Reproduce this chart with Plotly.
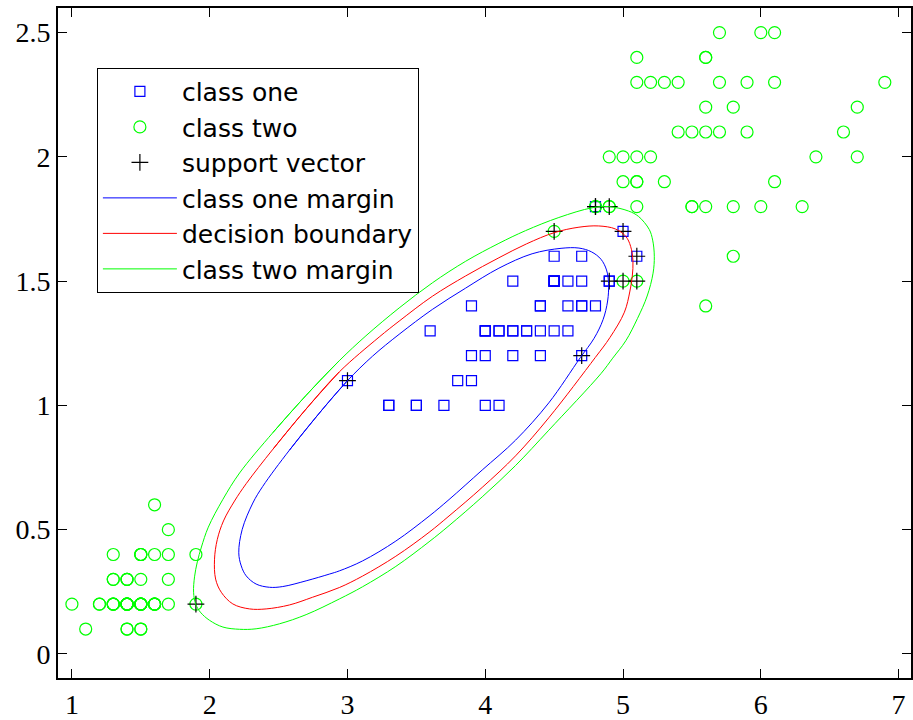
import plotly.graph_objects as go

# ---- data (iris petal length / width) ----
class_one_x = [4.7, 4.5, 4.9, 4.0, 4.6, 4.5, 4.7, 3.3, 4.6, 3.9, 3.5, 4.2, 4.0, 4.7, 3.6, 4.4, 4.5, 4.1, 4.5, 3.9,
               4.8, 4.0, 4.9, 4.7, 4.3, 4.4, 4.8, 5.0, 4.5, 3.5, 3.8, 3.7, 3.9, 5.1, 4.5, 4.5, 4.7, 4.4, 4.1, 4.0,
               4.4, 4.6, 4.0, 3.3, 4.2, 4.2, 4.2, 4.3, 3.0, 4.1]
class_one_y = [1.4, 1.5, 1.5, 1.3, 1.5, 1.3, 1.6, 1.0, 1.3, 1.4, 1.0, 1.5, 1.0, 1.4, 1.3, 1.4, 1.5, 1.0, 1.5, 1.1,
               1.8, 1.3, 1.5, 1.2, 1.3, 1.4, 1.4, 1.7, 1.5, 1.0, 1.1, 1.0, 1.2, 1.6, 1.5, 1.6, 1.5, 1.3, 1.3, 1.3,
               1.2, 1.4, 1.2, 1.0, 1.3, 1.2, 1.3, 1.3, 1.1, 1.3]

class_two_x = [1.4, 1.4, 1.3, 1.5, 1.4, 1.7, 1.4, 1.5, 1.4, 1.5, 1.5, 1.6, 1.4, 1.1, 1.2, 1.5, 1.3, 1.4, 1.7, 1.5,
               1.7, 1.5, 1.0, 1.7, 1.9, 1.6, 1.6, 1.5, 1.4, 1.6, 1.6, 1.5, 1.5, 1.4, 1.5, 1.2, 1.3, 1.4, 1.3, 1.5,
               1.3, 1.3, 1.3, 1.6, 1.9, 1.4, 1.6, 1.4, 1.5, 1.4,
               6.0, 5.1, 5.9, 5.6, 5.8, 6.6, 4.5, 6.3, 5.8, 6.1, 5.1, 5.3, 5.5, 5.0, 5.1, 5.3, 5.5, 6.7, 6.9, 5.0,
               5.7, 4.9, 6.7, 4.9, 5.7, 6.0, 4.8, 4.9, 5.6, 5.8, 6.1, 6.4, 5.6, 5.1, 5.6, 6.1, 5.6, 5.5, 4.8, 5.4,
               5.6, 5.1, 5.1, 5.9, 5.7, 5.2, 5.0, 5.2, 5.4, 5.1]
class_two_y = [0.2, 0.2, 0.2, 0.2, 0.2, 0.4, 0.3, 0.2, 0.2, 0.1, 0.2, 0.2, 0.1, 0.1, 0.2, 0.4, 0.4, 0.3, 0.3, 0.3,
               0.2, 0.4, 0.2, 0.5, 0.2, 0.2, 0.4, 0.2, 0.2, 0.2, 0.2, 0.4, 0.1, 0.2, 0.2, 0.2, 0.2, 0.1, 0.2, 0.2,
               0.3, 0.3, 0.2, 0.6, 0.4, 0.3, 0.2, 0.2, 0.2, 0.2,
               2.5, 1.9, 2.1, 1.8, 2.2, 2.1, 1.7, 1.8, 1.8, 2.5, 2.0, 1.9, 2.1, 2.0, 2.4, 2.3, 1.8, 2.2, 2.3, 1.5,
               2.3, 2.0, 2.0, 1.8, 2.1, 1.8, 1.8, 1.8, 2.1, 1.6, 1.9, 2.0, 2.2, 1.5, 1.4, 2.3, 2.4, 1.8, 1.8, 2.1,
               2.4, 2.3, 1.9, 2.3, 2.5, 2.3, 1.9, 2.0, 2.3, 1.8]

sv_x = [1.9, 3.0, 4.7, 4.9, 5.0, 5.1, 4.8, 4.5, 4.8, 4.9, 5.0, 5.1]
sv_y = [0.2, 1.1, 1.2, 1.5, 1.7, 1.6, 1.8, 1.7, 1.8, 1.8, 1.5, 1.5]

# contour lines (closed loops, first points repeated at the end)
one_margin_x = [2.579, 2.820, 3.001, 3.182, 3.375, 3.616, 3.858, 4.099, 4.340, 4.550, 4.680, 4.770, 4.840, 4.880,
                4.895, 4.888, 4.855, 4.790, 4.691, 4.461, 4.220, 3.978, 3.737, 3.592, 3.351, 3.109, 2.941, 2.868,
                2.700, 2.530, 2.434, 2.337, 2.265, 2.229, 2.211, 2.236, 2.313, 2.385, 2.579, 2.820, 3.001]
one_margin_y = [0.820, 0.985, 1.100, 1.198, 1.286, 1.386, 1.472, 1.552, 1.610, 1.632, 1.633, 1.618, 1.588, 1.545,
                1.490, 1.420, 1.345, 1.270, 1.193, 1.010, 0.860, 0.740, 0.621, 0.554, 0.454, 0.374, 0.334, 0.321,
                0.294, 0.271, 0.268, 0.281, 0.314, 0.354, 0.407, 0.501, 0.607, 0.674, 0.820, 0.985, 1.100]

boundary_x = [2.458, 2.699, 2.941, 3.230, 3.375, 3.616, 3.858, 4.099, 4.300, 4.500, 4.680, 4.823, 4.944, 5.020,
              5.055, 5.072, 5.067, 5.050, 5.010, 4.905, 4.799, 4.461, 4.220, 3.978, 3.737, 3.592, 3.351, 3.109,
              2.941, 2.747, 2.579, 2.410, 2.289, 2.168, 2.084, 2.043, 2.035, 2.055, 2.100, 2.180, 2.265, 2.458,
              2.699, 2.941]
boundary_y = [0.823, 0.985, 1.135, 1.275, 1.339, 1.439, 1.521, 1.594, 1.650, 1.695, 1.717, 1.722, 1.710, 1.680,
              1.640, 1.580, 1.520, 1.460, 1.375, 1.273, 1.193, 0.950, 0.797, 0.670, 0.555, 0.489, 0.393, 0.313,
              0.267, 0.228, 0.197, 0.181, 0.181, 0.201, 0.248, 0.301, 0.381, 0.460, 0.535, 0.615, 0.685, 0.823,
              0.985, 1.135]

two_margin_x = [2.458, 2.699, 2.941, 3.134, 3.375, 3.616, 3.858, 4.099, 4.292, 4.534, 4.775, 4.896, 5.040, 5.113,
                5.190, 5.215, 5.227, 5.218, 5.175, 5.105, 5.020, 4.925, 4.840, 4.461, 4.220, 3.978, 3.737, 3.592,
                3.351, 3.109, 2.941, 2.700, 2.506, 2.337, 2.217, 2.096, 1.999, 1.932, 1.898, 1.883, 1.890, 1.910,
                1.940, 1.990, 2.096, 2.217, 2.458, 2.699, 2.941]
two_margin_y = [0.890, 1.040, 1.180, 1.280, 1.392, 1.493, 1.580, 1.652, 1.703, 1.756, 1.795, 1.800, 1.782, 1.760,
                1.708, 1.665, 1.600, 1.532, 1.440, 1.350, 1.260, 1.190, 1.128, 0.900, 0.758, 0.632, 0.516, 0.451,
                0.352, 0.270, 0.221, 0.158, 0.121, 0.101, 0.099, 0.108, 0.135, 0.168, 0.201, 0.248, 0.310, 0.370,
                0.430, 0.510, 0.622, 0.728, 0.890, 1.040, 1.180]

x_ticks = [1, 2, 3, 4, 5, 6, 7]
y_ticks = [0, 0.5, 1, 1.5, 2, 2.5]
y_tick_text = ["0", "0.5", "1", "1.5", "2", "2.5"]

fig = go.Figure()
fig.add_trace(go.Scatter(x=class_one_x, y=class_one_y, mode="markers", name="class one",
                         marker=dict(symbol="square-open", size=10, color="rgb(0,0,255)",
                                     line=dict(width=1.2, color="rgb(0,0,255)"))))
fig.add_trace(go.Scatter(x=class_two_x, y=class_two_y, mode="markers", name="class two",
                         marker=dict(symbol="circle-open", size=12, color="rgb(0,255,0)",
                                     line=dict(width=1.2, color="rgb(0,255,0)"))))
fig.add_trace(go.Scatter(x=sv_x, y=sv_y, mode="markers", name="support vector",
                         marker=dict(symbol="cross-thin-open", size=12, color="black",
                                     line=dict(width=1.2, color="black"))))
fig.add_trace(go.Scatter(x=one_margin_x, y=one_margin_y, mode="lines", name="class one margin",
                         line=dict(color="rgb(0,0,255)", width=1, shape="spline", smoothing=1)))
fig.add_trace(go.Scatter(x=boundary_x, y=boundary_y, mode="lines", name="decision boundary",
                         line=dict(color="rgb(255,0,0)", width=1, shape="spline", smoothing=1)))
fig.add_trace(go.Scatter(x=two_margin_x, y=two_margin_y, mode="lines", name="class two margin",
                         line=dict(color="rgb(0,255,0)", width=1, shape="spline", smoothing=1)))

axis_common = dict(showline=True, linecolor="black", linewidth=1.8, mirror="ticks",
                   ticks="inside", ticklen=9, tickwidth=1, tickcolor="black",
                   showgrid=False, zeroline=False,
                   tickfont=dict(family="Liberation Serif", size=28, color="black"))

fig.update_layout(
    width=913, height=720,
    margin=dict(l=58, r=0, t=8, b=37),
    plot_bgcolor="white", paper_bgcolor="white",
    xaxis=dict(range=[0.899, 7.09], tickvals=x_ticks, ticktext=[str(v) for v in x_ticks], **axis_common),
    yaxis=dict(range=[-0.097, 2.599], tickvals=y_ticks, ticktext=y_tick_text, **axis_common),
    legend=dict(x=0.0456, y=0.911, xanchor="left", yanchor="top",
                bordercolor="black", borderwidth=1, bgcolor="white",
                font=dict(family="DejaVu Sans", size=25, color="black"),
                tracegroupgap=0, itemwidth=74),
    showlegend=True,
)

fig.write_html("out.html")
